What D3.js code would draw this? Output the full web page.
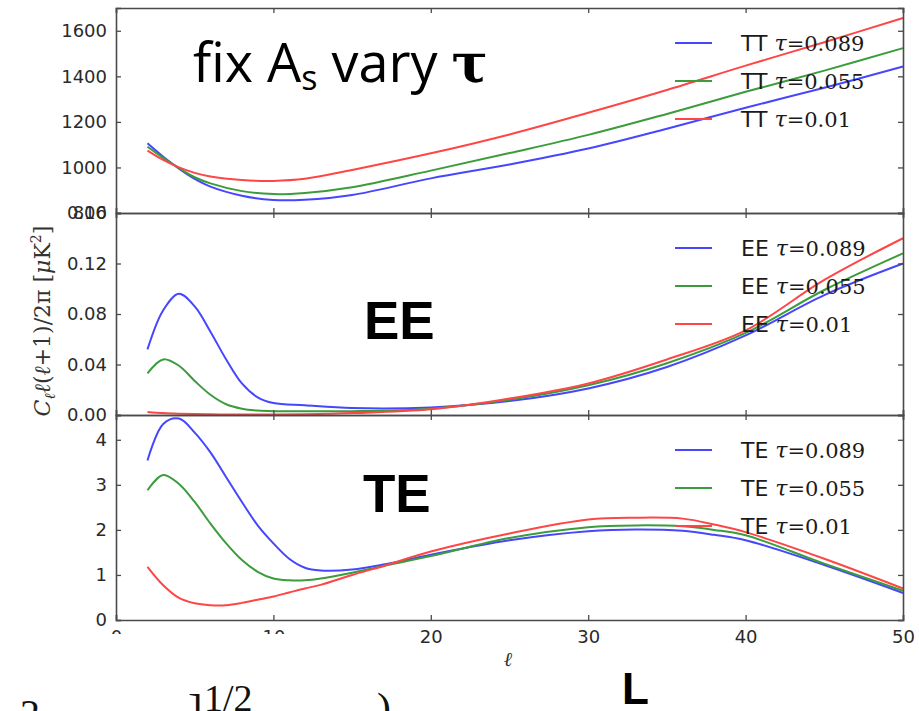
<!DOCTYPE html>
<html><head><meta charset="utf-8">
<script src="https://cdn.jsdelivr.net/npm/d3@7"></script>
<style>body{margin:0;background:#fff}svg{display:block}</style>
</head><body>
<svg id="c" width="919" height="711"></svg>
<script>
// ---------- data ----------
const ellTT = [2,3,4,5,6,8,10,12,15,20,25,30,35,40,45,50];
const tt089 = [1106,1047,995,950,916,876,857,858,879,952,1013,1083,1170,1262,1350,1443];
const tt055 = [1091,1042,997,957,930,896,883,888,913,986,1063,1143,1235,1332,1425,1524];
const tt001 = [1074,1033,1000,976,960,945,941,950,989,1062,1145,1240,1340,1447,1550,1656];

const ellEE = [2,3,4,5,6,7,8,9,10,12,15,20,25,30,35,40,45,50];
const ee089 = [0.052,0.083,0.096,0.086,0.066,0.044,0.025,0.014,0.0095,0.0077,0.0055,0.006,0.011,0.021,0.038,0.063,0.095,0.120];
const ee055 = [0.033,0.044,0.039,0.027,0.016,0.0085,0.005,0.0035,0.003,0.003,0.003,0.005,0.012,0.0235,0.041,0.065,0.099,0.128];
const ee001 = [0.0024,0.0015,0.001,0.0007,0.0005,0.0004,0.0004,0.0004,0.0004,0.0006,0.0015,0.0045,0.013,0.025,0.044,0.067,0.107,0.140];

const ellTE = [2,3,4,5,6,7,8,9,10,11,12,13,15,17,20,25,30,33,36,38,40,45,50];
const te089 = [3.54,4.35,4.47,4.16,3.72,3.17,2.62,2.10,1.70,1.36,1.16,1.10,1.12,1.23,1.45,1.77,1.97,2.01,1.98,1.89,1.77,1.22,0.60];
const te055 = [2.88,3.22,3.02,2.62,2.14,1.70,1.33,1.07,0.92,0.88,0.88,0.92,1.05,1.20,1.42,1.82,2.06,2.10,2.08,2.00,1.88,1.25,0.65];
const te001 = [1.18,0.77,0.49,0.37,0.33,0.33,0.38,0.45,0.52,0.61,0.70,0.78,1.00,1.20,1.52,1.92,2.23,2.27,2.25,2.12,1.95,1.36,0.70];

const tauLabels = ["0.089","0.055","0.01"];
const xTicks = [0,10,20,30,40,50];
const ttTicks = [800,1000,1200,1400,1600];
const eeTicks = [0.00,0.04,0.08,0.12,0.16];
const teTicks = [0,1,2,3,4];
const colors = ["#4646ff","#3c9c3c","#ff4646"];

// ---------- layout ----------
const svg = d3.select("#c");
const L = 116, R = 903;
const x = d3.scaleLinear().domain([0,50]).range([L,R]);

const panels = [
  {name:"TT", ell:ellTT, series:[tt089,tt055,tt001], y:d3.scaleLinear().domain([800,1700]).range([213,8]), ticks:ttTicks, fmt:d3.format("d")},
  {name:"EE", ell:ellEE, series:[ee089,ee055,ee001], y:d3.scaleLinear().domain([0,0.16]).range([415,213]), ticks:eeTicks, fmt:d3.format(".2f")},
  {name:"TE", ell:ellTE, series:[te089,te055,te001], y:d3.scaleLinear().domain([0,4.55]).range([620,415]), ticks:teTicks, fmt:d3.format("d")}
];

const axisColor = "#4a4a4a";
const tickFont = "DejaVu Sans, sans-serif";

panels.forEach((p, pi) => {
  const g = svg.append("g");
  const [yb, yt] = p.y.range();
  p.series.forEach((s, si) => {
    const line = d3.line().x((d,i)=>x(p.ell[i])).y(d=>p.y(d)).curve(d3.curveCatmullRom.alpha(0.5));
    g.append("path").datum(s).attr("d", line).attr("fill","none")
      .attr("stroke", colors[si]).attr("stroke-width", 2).attr("stroke-linejoin","round");
  });
  const yl = d3.axisLeft(p.y).tickValues(p.ticks).tickSize(-5).tickPadding(9).tickFormat(p.fmt);
  const gl = g.append("g").attr("transform",`translate(${L},0)`).call(yl);
  const yr = d3.axisRight(p.y).tickValues(p.ticks).tickSize(-5).tickFormat("");
  const gr = g.append("g").attr("transform",`translate(${R},0)`).call(yr);
  const xb = d3.axisBottom(x).tickValues(xTicks).tickSize(-5).tickPadding(10).tickFormat(pi===2 ? d3.format("d") : "");
  const gb = g.append("g").attr("transform",`translate(0,${yb})`).call(xb);
  const xt = d3.axisTop(x).tickValues(xTicks).tickSize(-5).tickFormat("");
  const gt = g.append("g").attr("transform",`translate(0,${yt})`).call(xt);
  [gl,gr,gb,gt].forEach(a => {
    a.selectAll(".domain").attr("stroke", axisColor).attr("stroke-width",1.6);
    a.selectAll(".tick line").attr("stroke", axisColor).attr("stroke-width",1.3);
    a.selectAll("text").attr("font-family", tickFont).attr("font-size",18).attr("fill","#2a2a2a");
  });
  const lx0 = 675, lx1 = 712, tx = 741;
  p.series.forEach((s, si) => {
    const ly = yt + 35 + si*38;
    g.append("line").attr("x1",lx0).attr("x2",lx1).attr("y1",ly).attr("y2",ly)
      .attr("stroke",colors[si]).attr("stroke-width",2);
    const t = g.append("text").attr("x",tx).attr("y",ly+8).attr("fill","#1a1a1a").attr("font-size",22);
    t.append("tspan").attr("font-family","DejaVu Sans, sans-serif").text(p.name+" ");
    t.append("tspan").attr("font-family","DejaVu Serif, serif").attr("font-style","italic").text("τ");
    t.append("tspan").attr("font-family","DejaVu Serif, serif").attr("font-size",21).text("=" + tauLabels[si]);
  });
});

// y-axis label
svg.append("text").attr("transform","translate(50,321) rotate(-90)")
  .attr("text-anchor","middle").attr("font-family","DejaVu Serif, serif").attr("font-size",22).attr("fill","#333")
  .html('<tspan font-style="italic">C</tspan><tspan font-style="italic" font-size="15" dy="5">ℓ</tspan><tspan dy="-5" font-style="italic">ℓ</tspan>(<tspan font-style="italic">ℓ</tspan>+1)/2π  [<tspan font-style="italic">μ</tspan>K<tspan font-size="14" dy="-9">2</tspan><tspan dy="9">]</tspan>');

// x-axis label
svg.append("text").attr("x",508).attr("y",666).attr("text-anchor","middle")
  .attr("font-family","DejaVu Serif, serif").attr("font-style","italic").attr("font-size",20).attr("fill","#333").text("ℓ");

// overlay from the pasted screenshot below the chart
svg.append("rect").attr("x",0).attr("y",634).attr("width",400).attr("height",77).attr("fill","#fff");
const serif = "Liberation Serif, Times New Roman, serif";
svg.append("text").attr("x",20).attr("y",727).attr("font-family",serif).attr("font-size",40).attr("fill","#111").text("2");
svg.append("text").attr("x",188).attr("y",725).attr("font-family",serif).attr("font-size",44).attr("fill","#111").text("]");
svg.append("text").attr("x",204).attr("y",711).attr("font-family",serif).attr("font-size",38).attr("fill","#111").text("1/2");
svg.append("text").attr("x",377).attr("y",722).attr("font-family",serif).attr("font-size",42).attr("fill","#111").text(")");

// annotations
const title = svg.append("text").attr("x",193).attr("y",82).attr("font-family","Open Sans, sans-serif").attr("font-size",54).attr("fill","#000");
title.append("tspan").text("fix A");
title.append("tspan").attr("font-size",34).attr("dy",8).text("s");
title.append("tspan").attr("dy",-8).text(" vary ");
title.append("tspan").attr("font-weight","bold").attr("font-family","DejaVu Serif, serif").text("τ");

svg.append("text").attr("x",364).attr("y",339).attr("font-family","Liberation Sans, Arial, sans-serif").attr("font-weight","bold").attr("font-size",53).attr("fill","#000").text("EE");
svg.append("text").attr("x",363).attr("y",512).attr("font-family","Liberation Sans, Arial, sans-serif").attr("font-weight","bold").attr("font-size",53).attr("fill","#000").text("TE");
svg.append("text").attr("x",622).attr("y",704).attr("font-family","Liberation Sans, Arial, sans-serif").attr("font-weight","bold").attr("font-size",44).attr("fill","#000").text("L");
</script>
</body></html>
